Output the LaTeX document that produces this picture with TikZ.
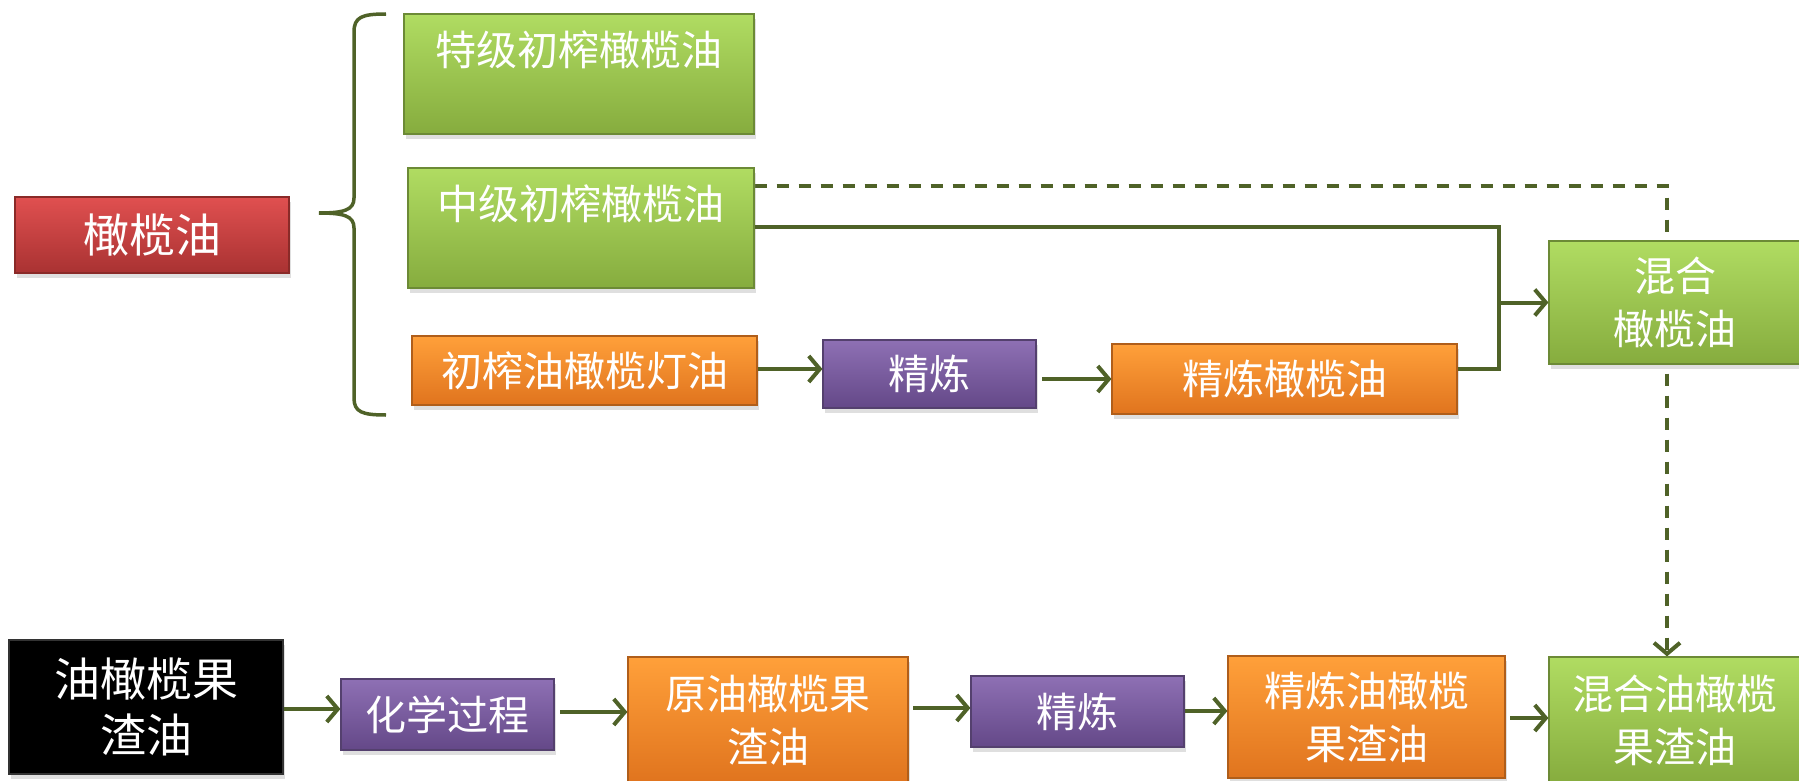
\documentclass[tikz,border=0pt]{standalone}
\usepackage{fontspec}
\newfontfamily\cjk{Noto Sans CJK SC}
\usetikzlibrary{arrows.meta,shadows,backgrounds}
\definecolor{gTop}{HTML}{B0DC62}
\definecolor{gBot}{HTML}{86AC3E}
\definecolor{gLine}{HTML}{6C8A36}
\definecolor{rTop}{HTML}{E05050}
\definecolor{rBot}{HTML}{A93232}
\definecolor{rLine}{HTML}{8A2A28}
\definecolor{oTop}{HTML}{FFA03A}
\definecolor{oBot}{HTML}{E0741E}
\definecolor{oLine}{HTML}{B05E1A}
\definecolor{pTop}{HTML}{8E70B4}
\definecolor{pBot}{HTML}{644888}
\definecolor{pLine}{HTML}{54406E}
\definecolor{conn}{HTML}{4F6228}
\tikzset{
  box/.style={rectangle, inner sep=0pt, line width=1.2pt, text=white, align=center,
    font=\cjk\fontsize{41}{53}\selectfont,
    drop shadow={opacity=0.25, shadow xshift=2pt, shadow yshift=-5pt}},
  greenbox/.style={box, top color=gTop, bottom color=gBot, draw=gLine},
  redbox/.style={box, top color=rTop, bottom color=rBot, draw=rLine},
  orangebox/.style={box, top color=oTop, bottom color=oBot, draw=oLine},
  purplebox/.style={box, top color=pTop, bottom color=pBot, draw=pLine},
  blackbox/.style={box, fill=black, draw=black!80},
  boxtext/.style={text=white, inner sep=0pt, font=\cjk\fontsize{41}{53}\selectfont},
  conline/.style={draw=conn, line width=4pt},
  arr/.style={conline, -{Straight Barb[length=11pt,width=26pt]}},
  dasharr/.style={arr, dash pattern=on 12pt off 10pt},
  bracepath/.style={draw=conn, line width=3.5pt}
}
\begin{document}
\begin{tikzpicture}[x=1pt,y=-1pt]
\useasboundingbox (0,0) rectangle (1799,781);

% nodes
\node[redbox, minimum width=274pt, minimum height=76pt, font=\cjk\fontsize{46}{55}\selectfont] (olive) at (152,235) {橄榄油};

\node[greenbox, minimum width=350pt, minimum height=120pt] (tejie) at (579,74) {};
\node[boxtext] (tejieT) at (579,50) {特级初榨橄榄油};
\node[greenbox, minimum width=346pt, minimum height=120pt] (zhongji) at (581,228) {};
\node[boxtext] (zhongjiT) at (581,204) {中级初榨橄榄油};
\node[orangebox, minimum width=345pt, minimum height=69pt] (chuzha) at (584.5,370.5) {初榨油橄榄灯油};
\node[purplebox, minimum width=213pt, minimum height=68pt] (jl1) at (929.5,374) {精炼};
\node[orangebox, minimum width=345pt, minimum height=70pt] (jlolive) at (1284.5,379) {精炼橄榄油};
\node[greenbox, minimum width=252pt, minimum height=123pt] (mix) at (1675,302.5) {混合\\橄榄油};

\node[blackbox, minimum width=274pt, minimum height=134pt, font=\cjk\fontsize{46}{56}\selectfont] (pomace) at (146,707) {油橄榄果\\渣油};
\node[purplebox, minimum width=213pt, minimum height=71pt] (chem) at (447.5,714.5) {化学过程};
\node[orangebox, minimum width=280pt, minimum height=126pt] (crude) at (768,720) {原油橄榄果\\渣油};
\node[purplebox, minimum width=213pt, minimum height=71pt] (jl2) at (1077.5,711.5) {精炼};
\node[orangebox, minimum width=277pt, minimum height=122pt] (refpom) at (1366.5,717) {精炼油橄榄\\果渣油};
\node[greenbox, minimum width=252pt, minimum height=126pt] (mixpom) at (1675,720) {混合油橄榄\\果渣油};

% brace
\draw[bracepath] (386,14) .. controls (362,14) and (354,17) .. (354,32)
  -- (354,198) .. controls (354,210) and (344,213) .. (319,213)
  .. controls (344,213) and (354,216) .. (354,228)
  -- (354,398) .. controls (354,412) and (362,415) .. (386,415);

% connectors (behind boxes)
\begin{scope}[on background layer]
\coordinate (dashTurn) at (1667,186);
\draw[dasharr] (zhongji.east |- 0,186) -- (dashTurn) -- (dashTurn |- mixpom.north);
\end{scope}
\coordinate (solidTurn) at (1499,227);
\coordinate (joinPt) at (1499,302.5);
\draw[conline] (zhongji.east |- 0,227) -- (solidTurn) -- (joinPt);
\draw[conline] (jlolive.east |- 0,369) -- (1499,369) -- (joinPt);
\draw[arr] (joinPt) -- (mix.west);
\draw[arr] (chuzha.east |- 0,369) -- (jl1.west |- 0,369);
\draw[arr] (1042,379) -- (jlolive.west);

\draw[arr] (pomace.east |- 0,709) -- (chem.west |- 0,709);
\draw[arr] (560,712) -- (crude.west |- 0,712);
\draw[arr] (913,708) -- (jl2.west |- 0,708);
\draw[arr] (jl2.east |- 0,711) -- (refpom.west |- 0,711);
\draw[arr] (1510,718) -- (mixpom.west |- 0,718);
\end{tikzpicture}
\end{document}
